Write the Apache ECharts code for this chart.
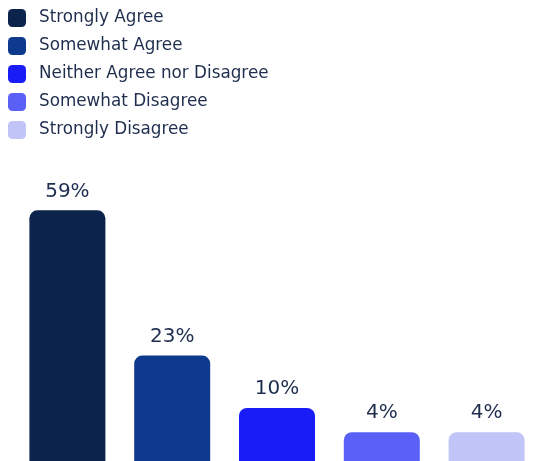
<!DOCTYPE html>
<html>
<head>
<meta charset="utf-8">
<script src="https://cdn.jsdelivr.net/npm/echarts@6/dist/echarts.min.js"></script>
<style>
  html, body { margin: 0; padding: 0; background: #ffffff; }
  #chart { width: 539px; height: 461px; }
</style>
</head>
<body>
<div id="chart"></div>
<script>
// Survey response categories and share of respondents (%)
const categories = [
  'Strongly Agree',
  'Somewhat Agree',
  'Neither Agree nor Disagree',
  'Somewhat Disagree',
  'Strongly Disagree'
];
const values = [59, 23, 10, 4, 4];

// One colour per response, dark to light
const palette = ['#0c234b', '#0e3a8e', '#1a1cf8', '#5a60f6', '#c0c4f6'];

const textColor = '#1f2e4e';
const fontFamily = '"DejaVu Sans", sans-serif';

const series = categories.map((name, i) => ({
  name: name,
  type: 'bar',
  barWidth: 76,
  barGap: '-100%',
  data: categories.map((c, j) => (j === i ? values[i] : '-')),
  itemStyle: { color: palette[i], borderRadius: [8, 8, 0, 0] },
  label: {
    show: true,
    position: 'top',
    distance: 9,
    formatter: '{c}%',
    color: textColor,
    fontSize: 20,
    fontFamily: fontFamily
  }
}));

const chart = echarts.init(document.getElementById('chart'), null, { renderer: 'canvas' });
chart.setOption({
  animation: false,
  color: palette,
  legend: {
    orient: 'vertical',
    left: 3,
    top: 4,
    itemWidth: 18,
    itemHeight: 18,
    itemGap: 10,
    icon: 'roundRect',
    selectedMode: false,
    textStyle: { color: textColor, fontSize: 16.8, fontFamily: fontFamily, padding: [0, 0, 0, 8] },
    data: categories
  },
  grid: { left: 15, right: 0, top: 166, bottom: 0, containLabel: false },
  xAxis: {
    type: 'category',
    data: categories,
    axisLine: { show: false },
    axisTick: { show: false },
    axisLabel: { show: false }
  },
  yAxis: {
    type: 'value',
    min: -3.15,
    max: 70,
    // bars rise from the bottom edge of the plot
    startValue: -3.15,
    axisLine: { show: false },
    axisTick: { show: false },
    axisLabel: { show: false },
    splitLine: { show: false }
  },
  series: series
});
</script>
</body>
</html>
